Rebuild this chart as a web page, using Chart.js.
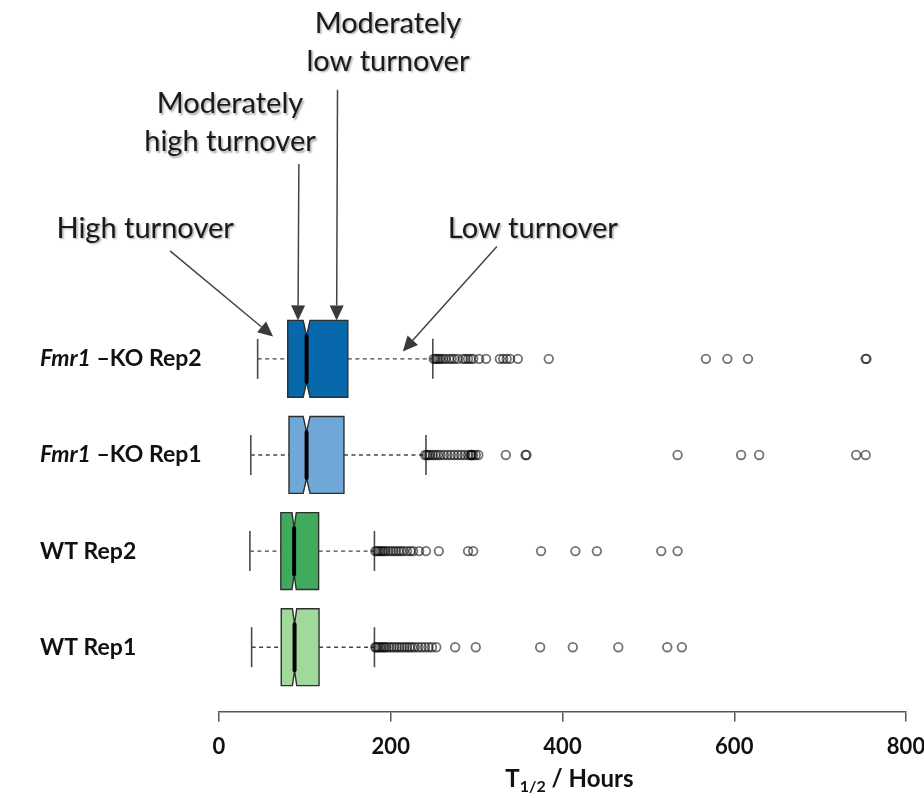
<!DOCTYPE html>
<html>
<head>
<meta charset="utf-8">
<script src="https://cdn.jsdelivr.net/npm/chart.js@4.4.1/dist/chart.umd.min.js"></script>
<style>
  html, body { margin: 0; padding: 0; background: #fff; }
  #wrap { width: 924px; height: 798px; }
</style>
</head>
<body>
<div id="wrap"><canvas id="chart" width="924" height="798"></canvas></div>
<script>
// one box per replicate, listed top to bottom
const rowLabels = ['Fmr1 –KO Rep2', 'Fmr1 –KO Rep1', 'WT Rep2', 'WT Rep1'];
const rowPos = [4, 3, 2, 1];

// half-life summary stats (hours)
const whiskerLow = [45, 37, 36, 38];
const quartile1 = [80, 81.5, 72, 72.5];
const medians = [102, 102, 87.5, 88];
const quartile3 = [150, 145.5, 116, 116.5];
const whiskerHigh = [249, 241, 181, 181];
const notchLow = [98, 98, 85, 85.5];
const notchHigh = [106, 106, 90, 90.5];

const outliers = [
  [250, 252, 254, 256, 258, 261, 264, 268, 271, 274, 278, 284, 287, 290, 293, 296, 303, 311,
   327, 331, 335, 339, 348, 384, 567, 592, 616, 753, 754],
  [240, 242, 244, 246, 249, 252, 255, 258, 262, 266, 270, 274, 278, 282, 286, 290, 293, 294,
   294, 296, 299, 302, 334, 357, 358, 534, 608, 629, 742, 753],
  [182, 184, 186, 188, 190, 192, 194, 197, 200, 203, 206, 209, 212, 215, 219, 223, 226,
   233, 241, 256, 290, 296, 375, 415, 440, 515, 534],
  [182, 183, 185, 187, 189, 191, 193, 195, 198, 201, 204, 207, 210, 213, 216, 219, 222, 225,
   228, 232, 236, 240, 244, 248, 253, 275, 299, 374, 412, 465, 522, 539]
];

const xTicks = [0, 200, 400, 600, 800];
const boxColors = ['#0868ac', '#6fa8d6', '#41ab5d', '#a1d99b'];

// labelled arrows above the top box, placed in axis units (x: hours, y: row units)
const callouts = [
  { lines: ['High turnover'], at: [-86, 5.356], from: [-57, 5.124], to: [63, 4.232] },
  { lines: ['Moderately', 'high turnover'], at: [12.8, 6.454], from: [93, 6.026], to: [92, 4.4] },
  { lines: ['Moderately', 'low turnover'], at: [196.7, 7.29], from: [138, 6.8], to: [137, 4.4] },
  { lines: ['Low turnover'], at: [365.5, 5.356], from: [323.6, 5.17], to: [214, 4.077] }
];

const FONT = 'Lato, "Open Sans", sans-serif';

function drawArrow(ctx, x1, y1, x2, y2) {
  const ang = Math.atan2(y2 - y1, x2 - x1);
  const len = 15, wid = 7;
  const bx = x2 - Math.cos(ang) * len, by = y2 - Math.sin(ang) * len;
  ctx.beginPath();
  ctx.moveTo(x1, y1);
  ctx.lineTo(bx, by);
  ctx.stroke();
  ctx.beginPath();
  ctx.moveTo(x2, y2);
  ctx.lineTo(bx + Math.sin(ang) * wid, by - Math.cos(ang) * wid);
  ctx.lineTo(bx - Math.sin(ang) * wid, by + Math.cos(ang) * wid);
  ctx.closePath();
  ctx.fill();
}

const boxPlotExtras = {
  id: 'boxPlotExtras',
  // dashed whiskers and end caps go underneath everything else
  beforeDatasetsDraw(chart) {
    const { ctx, scales: { x, y } } = chart;
    const bars = chart.getDatasetMeta(0).data;
    ctx.save();
    rowPos.forEach((r, i) => {
      const cy = y.getPixelForValue(r);
      const capHalf = bars[i].height / 2 * 0.52;
      ctx.strokeStyle = '#444';
      ctx.lineWidth = 1.4;
      ctx.setLineDash([4, 3.5]);
      ctx.beginPath();
      ctx.moveTo(x.getPixelForValue(whiskerLow[i]), cy);
      ctx.lineTo(x.getPixelForValue(quartile1[i]), cy);
      ctx.moveTo(x.getPixelForValue(quartile3[i]), cy);
      ctx.lineTo(x.getPixelForValue(whiskerHigh[i]), cy);
      ctx.stroke();
      ctx.setLineDash([]);
      ctx.strokeStyle = '#4a4a4a';
      ctx.lineWidth = 1.6;
      [whiskerLow[i], whiskerHigh[i]].forEach(v => {
        const px = x.getPixelForValue(v);
        ctx.beginPath();
        ctx.moveTo(px, cy - capHalf);
        ctx.lineTo(px, cy + capHalf);
        ctx.stroke();
      });
    });
    ctx.restore();
  },
  // cut the notches into the bars, then outline and add the median
  afterDatasetsDraw(chart) {
    const { ctx, scales: { x } } = chart;
    const bars = chart.getDatasetMeta(0).data;
    ctx.save();
    bars.forEach((bar, i) => {
      const half = bar.height / 2;
      const top = bar.y - half, bottom = bar.y + half;
      const inset = half * 0.4;
      const l = x.getPixelForValue(quartile1[i]);
      const r = x.getPixelForValue(quartile3[i]);
      const m = x.getPixelForValue(medians[i]);
      const nl = x.getPixelForValue(notchLow[i]);
      const nh = x.getPixelForValue(notchHigh[i]);

      ctx.fillStyle = '#fff';
      ctx.beginPath();
      ctx.moveTo(nl, top - 2); ctx.lineTo(nh, top - 2); ctx.lineTo(m, top + inset); ctx.closePath();
      ctx.moveTo(nl, bottom + 2); ctx.lineTo(nh, bottom + 2); ctx.lineTo(m, bottom - inset); ctx.closePath();
      ctx.fill();

      ctx.strokeStyle = '#2f2f2f';
      ctx.lineWidth = 1.4;
      ctx.lineJoin = 'miter';
      ctx.beginPath();
      ctx.moveTo(l, top);
      ctx.lineTo(nl, top);
      ctx.lineTo(m, top + inset);
      ctx.lineTo(nh, top);
      ctx.lineTo(r, top);
      ctx.lineTo(r, bottom);
      ctx.lineTo(nh, bottom);
      ctx.lineTo(m, bottom - inset);
      ctx.lineTo(nl, bottom);
      ctx.lineTo(l, bottom);
      ctx.closePath();
      ctx.stroke();

      ctx.strokeStyle = '#000';
      ctx.lineWidth = 4;
      ctx.lineCap = 'round';
      ctx.beginPath();
      ctx.moveTo(m, top + inset);
      ctx.lineTo(m, bottom - inset);
      ctx.stroke();
      ctx.lineCap = 'butt';
    });
    ctx.restore();
  },
  afterDraw(chart) {
    const { ctx, scales: { x, y } } = chart;
    ctx.save();

    // row names, gene symbol in italics
    ctx.fillStyle = '#111';
    ctx.textBaseline = 'middle';
    ctx.textAlign = 'left';
    rowLabels.forEach((label, i) => {
      const cy = y.getPixelForValue(rowPos[i]);
      let px = 40;
      const gene = label.startsWith('Fmr1') ? 'Fmr1' : '';
      if (gene) {
        ctx.font = 'italic bold 23px ' + FONT;
        ctx.fillText(gene, px, cy);
        px += ctx.measureText(gene).width;
      }
      ctx.font = 'bold 23px ' + FONT;
      ctx.fillText(label.slice(gene.length), px, cy);
    });

    // axis title with subscript
    const main1 = 'T', sub = '1/2', main2 = ' / Hours';
    const bigFont = 'bold 24px ' + FONT, smallFont = 'bold 16px ' + FONT;
    ctx.font = bigFont;
    const w1 = ctx.measureText(main1).width, w3 = ctx.measureText(main2).width;
    ctx.font = smallFont;
    const w2 = ctx.measureText(sub).width;
    let tx = x.getPixelForValue(408) - (w1 + w2 + w3) / 2;
    const ty = 787;
    ctx.textBaseline = 'alphabetic';
    ctx.font = bigFont;
    ctx.fillText(main1, tx, ty);
    tx += w1;
    ctx.font = smallFont;
    ctx.fillText(sub, tx, ty + 5);
    tx += w2;
    ctx.font = bigFont;
    ctx.fillText(main2, tx, ty);

    // arrows and their captions
    ctx.strokeStyle = '#444';
    ctx.fillStyle = '#3a3a3a';
    ctx.lineWidth = 1.5;
    callouts.forEach(c => {
      drawArrow(ctx,
        x.getPixelForValue(c.from[0]), y.getPixelForValue(c.from[1]),
        x.getPixelForValue(c.to[0]), y.getPixelForValue(c.to[1]));
    });
    ctx.font = '29px ' + FONT;
    ctx.textAlign = 'center';
    ctx.textBaseline = 'middle';
    ctx.fillStyle = '#1a1a1a';
    ctx.shadowColor = 'rgba(0,0,0,0.35)';
    ctx.shadowOffsetX = 1.5;
    ctx.shadowOffsetY = 1.5;
    ctx.shadowBlur = 2;
    const lineGap = 38;
    callouts.forEach(c => {
      const cx = x.getPixelForValue(c.at[0]);
      const cy = y.getPixelForValue(c.at[1]);
      const startY = cy - (c.lines.length - 1) * lineGap / 2;
      c.lines.forEach((t, k) => ctx.fillText(t, cx, startY + k * lineGap));
    });
    ctx.restore();
  }
};

const ctx = document.getElementById('chart').getContext('2d');
new Chart(ctx, {
  data: {
    datasets: [
      {
        type: 'bar',
        indexAxis: 'y',
        data: rowPos.map((r, i) => ({ x: [quartile1[i], quartile3[i]], y: r })),
        backgroundColor: boxColors,
        borderWidth: 0,
        categoryPercentage: 1,
        barPercentage: 0.8,
        xAxisID: 'x',
        yAxisID: 'y'
      },
      {
        type: 'scatter',
        data: outliers.flatMap((vals, i) => vals.map(v => ({ x: v, y: rowPos[i] }))),
        pointStyle: 'circle',
        pointRadius: 4.3,
        pointBorderWidth: 1.8,
        pointBorderColor: 'rgba(0,0,0,0.55)',
        pointBackgroundColor: 'rgba(0,0,0,0)',
        xAxisID: 'x',
        yAxisID: 'y'
      }
    ]
  },
  options: {
    responsive: false,
    animation: false,
    layout: { padding: { left: 219, right: 18, top: 0, bottom: 26 } },
    plugins: {
      legend: { display: false },
      tooltip: { enabled: false }
    },
    scales: {
      x: {
        type: 'linear',
        position: 'bottom',
        offset: false,
        min: 0,
        max: 800,
        afterBuildTicks: scale => { scale.ticks = xTicks.map(v => ({ value: v })); },
        // the last tick label may hang past the plot edge
        afterFit: scale => { scale.paddingRight = 0; },
        ticks: {
          color: '#111',
          padding: 12,
          font: { family: FONT, size: 22, weight: 'bold' }
        },
        grid: {
          drawOnChartArea: false,
          drawTicks: true,
          tickLength: 10,
          color: '#555',
          lineWidth: 1.5
        },
        border: { display: true, color: '#555', width: 1.5 }
      },
      y: {
        type: 'linear',
        display: false,
        offset: false,
        min: 0.33,
        max: 7.67,
        // one tick per row so bar thickness follows the row spacing
        afterBuildTicks: scale => { scale.ticks = rowPos.map(v => ({ value: v })); }
      }
    }
  },
  plugins: [boxPlotExtras]
});
</script>
</body>
</html>
